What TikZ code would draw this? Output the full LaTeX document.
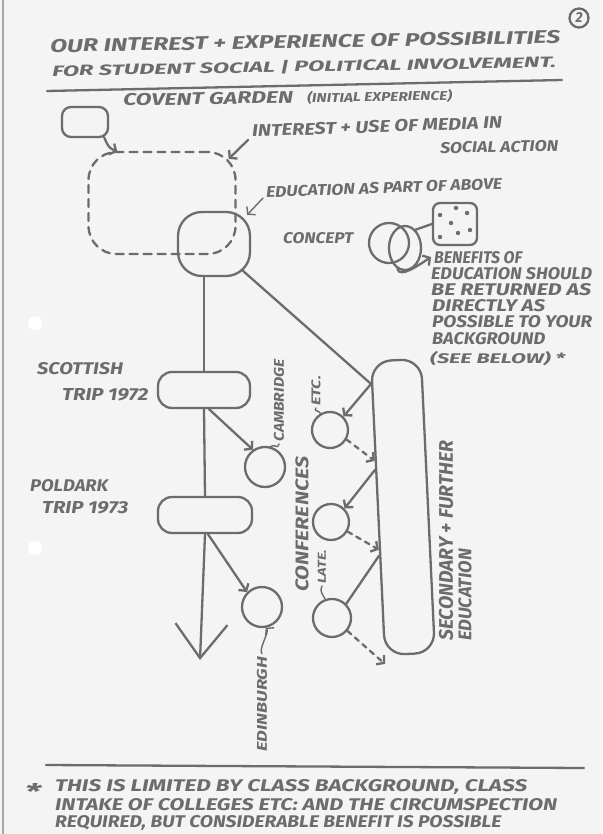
\documentclass[tikz,border=0pt]{standalone}
\usepackage{fontspec}
\setmainfont{Fira Sans}
\usepackage{graphicx}
\usetikzlibrary{arrows.meta,calc,shapes.geometric}
\definecolor{ink}{HTML}{6C6C6C}
\definecolor{paper}{HTML}{F4F4F4}
\newcommand{\hw}[3]{\resizebox{#1pt}{#2pt}{\bfseries\itshape #3}}
\tikzset{
  pen/.style={draw=ink, line width=2.3pt, line cap=round, line join=round},
  thinpen/.style={draw=ink, line width=1.4pt, line cap=round, line join=round},
  dsh/.style={dash pattern=on 8pt off 6pt},
  sdsh/.style={dash pattern=on 5pt off 5pt},
  pointy/.style={-{Straight Barb[length=5pt,width=12pt]}},
  bigpointy/.style={-{Straight Barb[length=34pt,width=52pt]}},
  lbl/.style={text=ink, inner sep=0pt},
  ring/.style={pen, circle, inner sep=0pt},
  boxy/.style={pen, inner sep=0pt},
}
\begin{document}
\begin{tikzpicture}[x=1pt,y=-1pt]
\fill[paper] (0,0) rectangle (602,834);
\useasboundingbox (0,0) rectangle (602,834);
% page edge and punch holes
\draw[ink!60, line width=1.2pt] (3,0) -- (3,834);
\fill[white] (35,323) circle (7pt);
\fill[white] (35,548) circle (7pt);

% title
\node[lbl, anchor=west, rotate=1] (t1) at (50,46) {\hw{510}{13}{OUR INTEREST + EXPERIENCE OF POSSIBILITIES}};
\node[lbl, anchor=west, rotate=1] (t2) at (52,71) {\hw{504}{12}{FOR STUDENT SOCIAL | POLITICAL INVOLVEMENT.}};
\coordinate (u1) at (47,91);
\coordinate (u2) at (562,80);
\draw[pen] (u1) -- (u2);
\node[pen, circle, minimum size=19pt, inner sep=0pt] (pg) at (579,18) {};
\node[lbl] (pgt) at (pg) {\hw{7}{10}{2}};

% covent garden
\node[boxy, rounded corners=9pt, minimum width=46pt, minimum height=30pt] (cg) at (85,122) {};
\node[lbl, anchor=west, rotate=1] (cgt) at (123,101) {\hw{170}{12}{COVENT GARDEN}\hspace{14pt}\hw{145}{11}{(INITIAL EXPERIENCE)}};

% dashed loop
\node[pen, dsh, rounded corners=28pt, minimum width=147pt, minimum height=102pt] (loop) at (162,203) {};
\draw[pen, pointy] ($(cg.south east)+(-5,-1)$) .. controls +(4,10) and +(-8,-4) .. ($(loop.north west)+(30,1)$);

\node[lbl, anchor=west, rotate=2] (med1) at (252,131) {\hw{250}{12}{INTEREST + USE OF MEDIA IN}};
\node[lbl, anchor=west, rotate=1] (med2) at (440,148) {\hw{118}{11}{SOCIAL ACTION}};
\draw[pen, pointy] ($(med1.west)+(-4,9)$) -- ($(loop.north east)+(-8,8)$);

% education circle
\node[boxy, rounded corners=24pt, minimum width=72pt, minimum height=64pt] (edu) at (214,244) {};
\node[lbl, anchor=west, rotate=2] (edt) at (266,192) {\hw{236}{11}{EDUCATION AS PART OF ABOVE}};
\draw[thinpen, pointy] ($(edt.west)+(-3,6)$) -- ($(edu.north east)+(-4,4)$);

% concept
\node[lbl, anchor=west] (cpt) at (283,238) {\hw{70}{11}{CONCEPT}};
\node[pen, ellipse, minimum width=40pt, minimum height=40pt, inner sep=0pt] (ca) at (389,243) {};
\node[pen, ellipse, minimum width=32pt, minimum height=44pt, inner sep=0pt] (cb) at (405,248) {};
\node[boxy, rounded corners=7pt, minimum width=44pt, minimum height=42pt] (sq) at (455,224) {};
\draw[pen] (cb.60) -- (sq.west);
\foreach \p in {(440,215),(456,208),(467,213),(451,223),(440,237),(458,233),(470,230)} \fill[ink] \p circle (2.2pt);
\coordinate (hookend) at (431,257);
\draw[pen, pointy] (cb.-110) .. controls +(2,10) and +(-12,8) .. (hookend);

% benefits text
\node[lbl, anchor=west] (b1) at (434,258) {\hw{88}{12}{BENEFITS OF}};
\node[lbl, anchor=west] (b2) at (431,274) {\hw{161}{12}{EDUCATION SHOULD}};
\node[lbl, anchor=west] (b3) at (431,290) {\hw{160}{12}{BE RETURNED AS}};
\node[lbl, anchor=west] (b4) at (432,306) {\hw{113}{12}{DIRECTLY AS}};
\node[lbl, anchor=west] (b5) at (432,322) {\hw{160}{12}{POSSIBLE TO YOUR}};
\node[lbl, anchor=west] (b6) at (432,339) {\hw{113}{12}{BACKGROUND}};
\node[lbl, anchor=west] (b7) at (430,359) {\hw{135}{12}{(SEE BELOW) *}};

% trips
\node[boxy, rounded corners=14pt, minimum width=92pt, minimum height=36pt] (scot) at (204,390) {};
\node[boxy, rounded corners=14pt, minimum width=94pt, minimum height=36pt] (pold) at (205,515) {};
\node[lbl, anchor=west] (sc1) at (37,369) {\hw{86}{12}{SCOTTISH}};
\node[lbl, anchor=west] (sc2) at (62,395) {\hw{86}{12}{TRIP 1972}};
\node[lbl, anchor=west] (po1) at (30,486) {\hw{78}{12}{POLDARK}};
\node[lbl, anchor=west] (po2) at (42,508) {\hw{86}{12}{TRIP 1973}};
\coordinate (arrend) at (200,660);
\draw[pen] (scot.north |- edu.south) -- (scot.north);
\draw[pen] (scot.south) -- (pold.north);
\draw[pen, bigpointy] (pold.south) -- (arrend);

% cambridge / edinburgh
\node[ring, minimum size=40pt] (cam) at (265,467) {};
\node[ring, minimum size=40pt] (edi) at (262,607) {};
\draw[pen, pointy] ($(scot.south)+(5,0)$) -- (cam.125);
\draw[pen, pointy] ($(pold.south)+(3,0)$) -- (edi.135);
\node[lbl, rotate=90, anchor=west] (caml) at (279,442) {\hw{82}{10}{CAMBRIDGE}};
\draw[thinpen] ($(caml.west)+(0,2)$) .. controls +(-2,6) and +(6,-3) .. (cam.75);
\node[lbl, rotate=90, anchor=west] (edil) at (262,752) {\hw{95}{10}{EDINBURGH}};
\draw[thinpen, pointy] ($(edil.east)+(0,-3)$) .. controls +(-4,-4) and +(4,4) .. (edi.-80);

% secondary + further education
\node[boxy, rounded corners=20pt, minimum width=50pt, minimum height=294pt, rotate=2.7] (tall) at (403,507) {};
\coordinate (p1) at ($(tall.north west)!0.08!(tall.south west)$);
\coordinate (q1) at ($(tall.north west)!0.34!(tall.south west)$);
\coordinate (p2) at ($(tall.north west)!0.37!(tall.south west)$);
\coordinate (q2) at ($(tall.north west)!0.64!(tall.south west)$);
\coordinate (p3) at ($(tall.north west)!0.66!(tall.south west)$);
\coordinate (lend) at (385,664);
\node[ring, minimum size=36pt] (etc) at (330,430) {};
\node[ring, minimum size=36pt] (conf) at (331,522) {};
\node[ring, minimum size=38pt] (late) at (332,618) {};
\draw[pen] ($(edu.south east)+(-9,-7)$) -- (p1);
\draw[pen, pointy] (p1) -- (etc.45);
\draw[pen, sdsh, pointy] (etc.-30) -- (q1);
\draw[pen, pointy] (p2) -- (conf.45);
\draw[pen, sdsh, pointy] (conf.-30) -- (q2);
\draw[pen] (p3) -- (late.45);
\draw[pen, sdsh, pointy] (late.-40) -- (lend);
\node[lbl, rotate=90, anchor=west] (etcl) at (316,406) {\hw{30}{9}{ETC.}};
\draw[thinpen] ($(etcl.west)+(0,2)$) .. controls +(-3,4) and +(-2,-4) .. (etc.120);
\node[lbl, rotate=90, anchor=west] (conft) at (302,592) {\hw{135}{13}{CONFERENCES}};
\node[lbl, rotate=90, anchor=west] (latel) at (322,584) {\hw{34}{8}{LATE.}};
\draw[thinpen] ($(latel.west)+(0,2)$) .. controls +(-3,5) and +(-2,-4) .. (late.110);
\node[lbl, rotate=90, anchor=west] (sf1) at (446,641) {\hw{200}{14}{SECONDARY + FURTHER}};
\node[lbl, rotate=90, anchor=west] (sf2) at (465,641) {\hw{92}{13}{EDUCATION}};

% footer
\coordinate (f1) at (46,765);
\coordinate (f2) at (584,768);
\draw[pen] (f1) -- (f2);
\node[lbl] (star) at (33,791) {\hw{16}{16}{*}};
\node[lbl, anchor=west] (ft1) at (55,787) {\hw{472}{12}{THIS IS LIMITED BY CLASS BACKGROUND, CLASS}};
\node[lbl, anchor=west] (ft2) at (55,805) {\hw{502}{12}{INTAKE OF COLLEGES ETC: AND THE CIRCUMSPECTION}};
\node[lbl, anchor=west] (ft3) at (55,823) {\hw{446}{12}{REQUIRED, BUT CONSIDERABLE BENEFIT IS POSSIBLE}};
\end{tikzpicture}
\end{document}
